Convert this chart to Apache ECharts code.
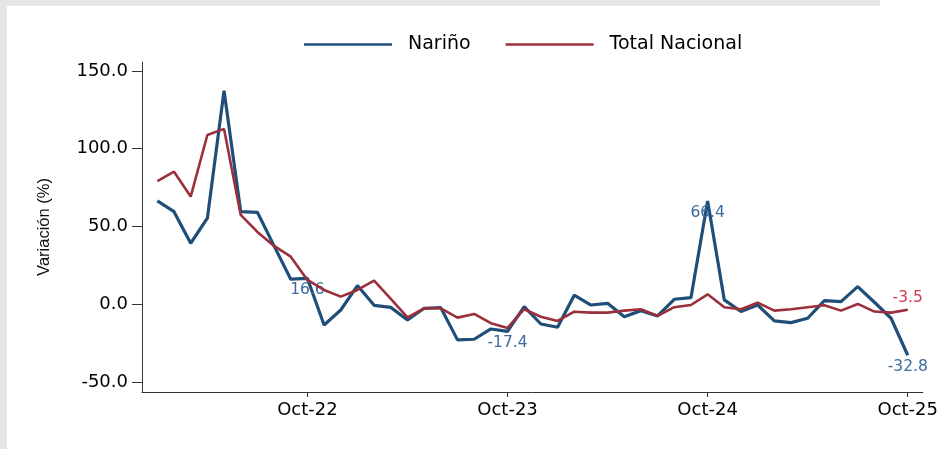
<!DOCTYPE html>
<html>
<head>
<meta charset="utf-8">
<script src="https://cdn.jsdelivr.net/npm/echarts@6/dist/echarts.min.js"></script>
<style>
  html, body { margin: 0; padding: 0; background: #fff; }
  #chart { width: 941px; height: 449px; }
</style>
</head>
<body>
<div id="chart"></div>
<script>
const months = [
  'Jan-22', 'Feb-22', 'Mar-22', 'Apr-22', 'May-22', 'Jun-22', 'Jul-22', 'Aug-22', 'Sep-22', 'Oct-22', 'Nov-22', 'Dec-22',
  'Jan-23', 'Feb-23', 'Mar-23', 'Apr-23', 'May-23', 'Jun-23', 'Jul-23', 'Aug-23', 'Sep-23', 'Oct-23', 'Nov-23', 'Dec-23',
  'Jan-24', 'Feb-24', 'Mar-24', 'Apr-24', 'May-24', 'Jun-24', 'Jul-24', 'Aug-24', 'Sep-24', 'Oct-24', 'Nov-24', 'Dec-24',
  'Jan-25', 'Feb-25', 'Mar-25', 'Apr-25', 'May-25', 'Jun-25', 'Jul-25', 'Aug-25', 'Sep-25', 'Oct-25'
]

const narino = [
  66.4, 59.5, 39.2, 55.3, 137.3, 59.5, 59.1, 37.5, 16.1, 16.6, -13.3, -3.7,
  12.0, -0.7, -2.0, -10.1, -2.6, -2.2, -22.9, -22.5, -15.9, -17.4, -1.5, -12.7,
  -14.8, 5.8, -0.5, 0.6, -8.0, -4.1, -7.5, 3.2, 4.2, 66.4, 2.8, -4.7,
  -0.5, -10.7, -11.8, -9.0, 2.3, 1.7, 11.3, 1.3, -9.0, -32.8
]

const totalNacional = [
  79.2, 85.2, 69.2, 108.8, 112.7, 57.4, 46.5, 37.5, 30.6, 15.6, 9.2, 4.9,
  9.2, 15.2, 3.4, -8.4, -2.6, -2.6, -8.6, -6.2, -12.2, -15.2, -3.2, -8.0,
  -10.7, -4.8, -5.4, -5.4, -4.1, -3.2, -7.5, -1.9, -0.5, 6.4, -1.9, -3.2,
  1.0, -4.1, -3.2, -1.9, -0.6, -4.1, 0.2, -4.7, -5.4, -3.5
]

const xTicks = [9, 21, 33, 45]
const yTicks = [-50, 0, 50, 100, 150]
const narinoLabels = [9, 21, 33, 45]
const totalLabels = [45]

const chart = echarts.init(document.getElementById('chart'))

const toData = (vals, labelled) => vals.map((v, i) => ({
  value: [i, v],
  label: {show: labelled.includes(i)}
}))

const wideFont = 'DejaVu Sans'

const option = {
  animation: false,
  backgroundColor: '#fff',
  graphic: [
    {type: 'rect', shape: {x: 0, y: 0, width: 880, height: 6}, style: {fill: '#e6e6e6'}, silent: true},
    {type: 'rect', shape: {x: 0, y: 0, width: 7, height: 449}, style: {fill: '#e6e6e6'}, silent: true}
  ],
  legend: {
    left: 299,
    top: 30,
    icon: 'rect',
    itemWidth: 88,
    itemHeight: 2.5,
    itemGap: 35,
    textStyle: {
      fontFamily: wideFont,
      fontSize: 19,
      color: '#000',
      padding: [0, 0, 0, 11]
    },
    data: ['Nariño', 'Total Nacional']
  },
  grid: {
    left: 142,
    right: 16,
    top: 62,
    bottom: 57,
    containLabel: false
  },
  xAxis: {
    type: 'value',
    min: -0.92,
    max: 45.9,
    splitLine: {show: false},
    axisLine: {show: true, onZero: false, lineStyle: {color: '#333', width: 1}},
    axisTick: {show: true, customValues: xTicks, length: 5, lineStyle: {color: '#333'}},
    axisLabel: {
      customValues: xTicks,
      margin: 9,
      fontFamily: wideFont,
      fontSize: 18,
      color: '#000',
      formatter: v => months[Math.round(v)]
    }
  },
  yAxis: {
    type: 'value',
    min: -56.4,
    max: 155.7,
    name: 'Variación (%)',
    nameLocation: 'middle',
    nameGap: 89,
    nameTextStyle: {
      fontFamily: 'Liberation Sans',
      fontSize: 16.5,
      color: '#111'
    },
    splitLine: {show: false},
    axisLine: {show: true, onZero: false, lineStyle: {color: '#333', width: 1}},
    axisTick: {show: true, customValues: yTicks, length: 10, lineStyle: {color: '#333'}},
    axisLabel: {
      customValues: yTicks,
      margin: 14,
      fontFamily: wideFont,
      fontSize: 18,
      color: '#000',
      formatter: v => v.toFixed(1)
    }
  },
  series: [
    {
      name: 'Nariño',
      type: 'line',
      data: toData(narino, narinoLabels),
      symbol: 'circle',
      symbolSize: 0,
      showSymbol: true,
      lineStyle: {color: '#1f4e79', width: 3.2},
      itemStyle: {color: '#1f4e79'},
      label: {
        position: 'bottom',
        distance: 4,
        fontFamily: wideFont,
        fontSize: 15.5,
        color: '#3d6b9e',
        formatter: p => p.value[1].toFixed(1)
      },
      z: 3
    },
    {
      name: 'Total Nacional',
      type: 'line',
      data: toData(totalNacional, totalLabels),
      symbol: 'circle',
      symbolSize: 0,
      showSymbol: true,
      lineStyle: {color: '#9c2f3c', width: 2.6},
      itemStyle: {color: '#9c2f3c'},
      label: {
        position: 'top',
        distance: 4,
        fontFamily: wideFont,
        fontSize: 15.5,
        color: '#d9344f',
        formatter: p => p.value[1].toFixed(1)
      },
      z: 4
    }
  ]
}

chart.setOption(option)
</script>
</body>
</html>
